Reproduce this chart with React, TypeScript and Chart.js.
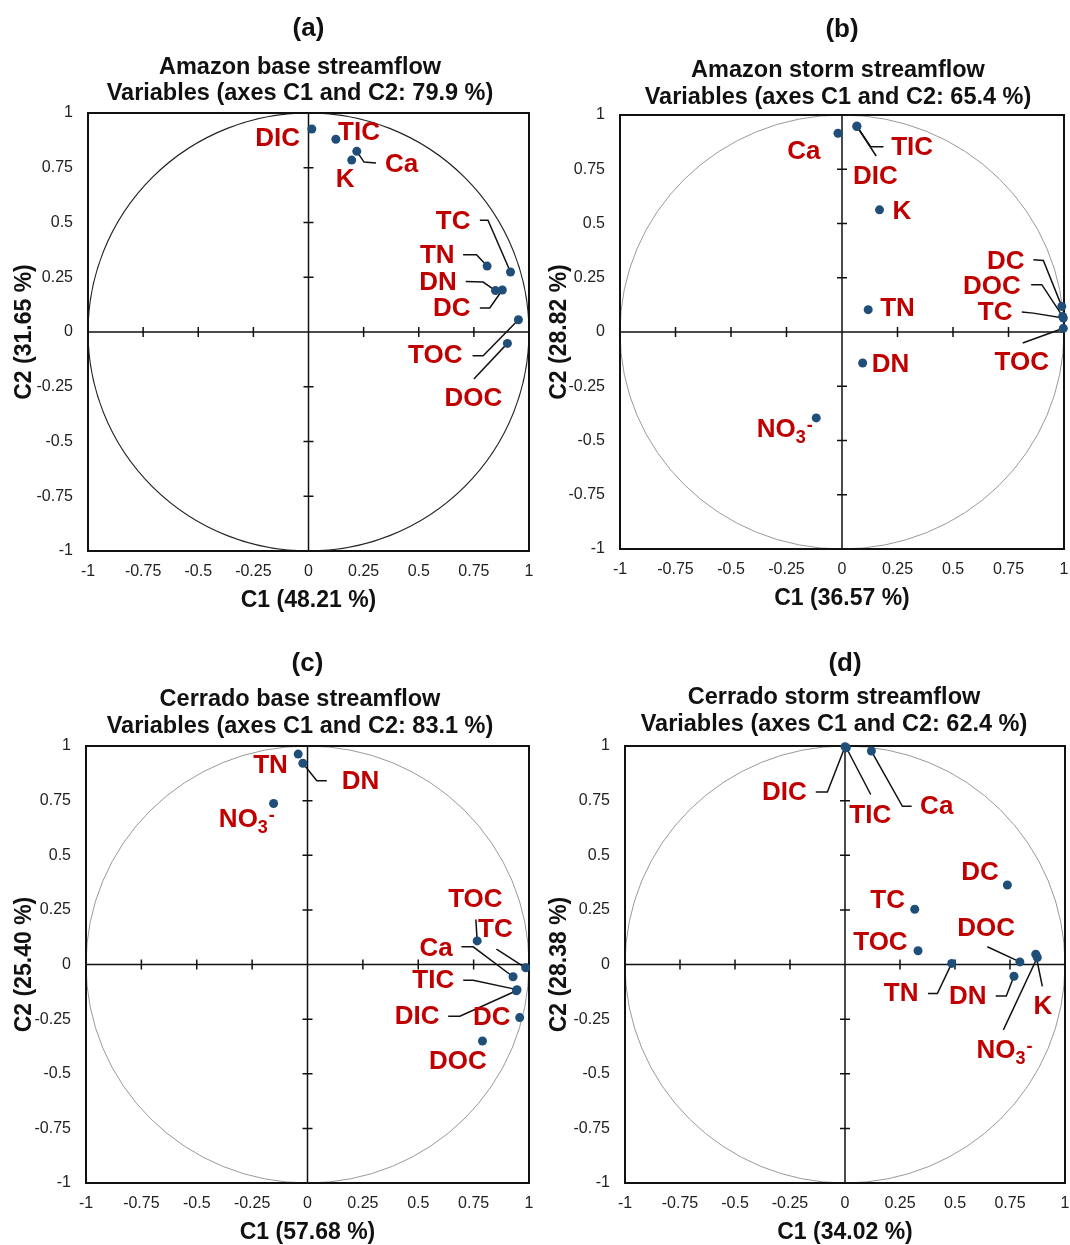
import React, { useEffect, useRef } from 'react';
import { Chart, registerables } from 'chart.js';

Chart.register(...registerables);

// ---------- data ----------
const axisTicks = [-1, -0.75, -0.5, -0.25, 0, 0.25, 0.5, 0.75, 1];

// (a) Amazon base streamflow
const aVars = ['DIC', 'TIC', 'Ca', 'K', 'TN', 'TC', 'DN', 'DC', 'TOC', 'DOC'];
const aC1 = [0.015, 0.124, 0.219, 0.196, 0.81, 0.916, 0.848, 0.879, 0.952, 0.902];
const aC2 = [0.927, 0.88, 0.825, 0.785, 0.301, 0.274, 0.189, 0.192, 0.056, -0.052];

// (b) Amazon storm streamflow
const bVars = ['Ca', 'TIC', 'DIC', 'K', 'TN', 'DN', 'DC', 'DOC', 'TC', 'TOC', 'NO3-'];
const bC1 = [-0.018, 0.067, 0.067, 0.169, 0.118, 0.093, 0.99, 0.994, 0.997, 0.997, -0.116];
const bC2 = [0.916, 0.949, 0.947, 0.563, 0.103, -0.143, 0.118, 0.072, 0.064, 0.017, -0.396];

// (c) Cerrado base streamflow
const cVars = ['TN', 'DN', 'NO3-', 'TOC', 'TC', 'Ca', 'TIC', 'DIC', 'DC', 'DOC'];
const cC1 = [-0.042, -0.021, -0.153, 0.766, 0.985, 0.928, 0.946, 0.943, 0.958, 0.79];
const cC2 = [0.963, 0.921, 0.737, 0.108, -0.015, -0.056, -0.115, -0.12, -0.243, -0.35];

// (d) Cerrado storm streamflow
const dVars = ['DIC', 'TIC', 'Ca', 'DC', 'TC', 'TOC', 'TN', 'DOC', 'DN', 'K', 'NO3-'];
const dC1 = [0.0, 0.006, 0.12, 0.738, 0.317, 0.332, 0.485, 0.795, 0.768, 0.867, 0.874];
const dC2 = [0.997, 0.992, 0.977, 0.364, 0.253, 0.063, 0.005, 0.012, -0.054, 0.047, 0.032];

// ---------- label annotations (data units) ----------
type LabelSpec = { at: [number, number]; via?: [number, number][] };

const aLabels: Record<string, LabelSpec> = {
  DIC: { at: [-0.14, 0.881] },
  TIC: { at: [0.229, 0.909] },
  Ca: { at: [0.422, 0.764], via: [[0.306, 0.772], [0.252, 0.776]] },
  K: { at: [0.166, 0.696] },
  TC: { at: [0.656, 0.505], via: [[0.777, 0.51], [0.814, 0.51]] },
  TN: { at: [0.584, 0.349], via: [[0.701, 0.353], [0.762, 0.353]] },
  DN: { at: [0.587, 0.224], via: [[0.713, 0.231], [0.792, 0.228]] },
  DC: { at: [0.65, 0.107], via: [[0.777, 0.11], [0.822, 0.11]] },
  TOC: { at: [0.575, -0.108], via: [[0.744, -0.108], [0.792, -0.108]] },
  DOC: { at: [0.748, -0.304], via: [[0.75, -0.215]] },
};

const bLabels: Record<string, LabelSpec> = {
  Ca: { at: [-0.172, 0.831] },
  TIC: { at: [0.316, 0.85], via: [[0.187, 0.854], [0.129, 0.854]] },
  DIC: { at: [0.15, 0.716], via: [[0.154, 0.811]] },
  K: { at: [0.27, 0.555] },
  TN: { at: [0.25, 0.106] },
  DN: { at: [0.219, -0.15] },
  DC: { at: [0.738, 0.325], via: [[0.862, 0.333], [0.907, 0.33]] },
  DOC: { at: [0.675, 0.21], via: [[0.852, 0.218], [0.9, 0.218]] },
  TC: { at: [0.69, 0.087], via: [[0.81, 0.092], [0.862, 0.087]] },
  TOC: { at: [0.81, -0.143], via: [[0.814, -0.051]] },
  'NO3-': { at: [-0.26, -0.45] },
};

const cLabels: Record<string, LabelSpec> = {
  TN: { at: [-0.167, 0.908] },
  DN: { at: [0.239, 0.837], via: [[0.087, 0.841], [0.042, 0.841]] },
  'NO3-': { at: [-0.276, 0.661] },
  TOC: { at: [0.758, 0.295], via: [[0.76, 0.206]] },
  TC: { at: [0.848, 0.157], via: [[0.853, 0.07]] },
  Ca: { at: [0.581, 0.07], via: [[0.695, 0.081], [0.748, 0.081]] },
  TIC: { at: [0.568, -0.075], via: [[0.703, -0.072], [0.748, -0.072]] },
  DIC: { at: [0.495, -0.24], via: [[0.635, -0.237], [0.688, -0.237]] },
  DC: { at: [0.832, -0.243] },
  DOC: { at: [0.679, -0.446] },
};

const dLabels: Record<string, LabelSpec> = {
  DIC: { at: [-0.276, 0.786], via: [[-0.133, 0.789], [-0.08, 0.789]] },
  TIC: { at: [0.115, 0.681], via: [[0.117, 0.778]] },
  Ca: { at: [0.417, 0.721], via: [[0.303, 0.724], [0.261, 0.724]] },
  DC: { at: [0.614, 0.418] },
  TC: { at: [0.194, 0.291] },
  TOC: { at: [0.161, 0.1] },
  DOC: { at: [0.641, 0.162], via: [[0.647, 0.081]] },
  TN: { at: [0.255, -0.133], via: [[0.377, -0.133], [0.42, -0.133]] },
  DN: { at: [0.558, -0.149], via: [[0.685, -0.144], [0.733, -0.144]] },
  K: { at: [0.9, -0.194], via: [[0.897, -0.1]] },
  'NO3-': { at: [0.723, -0.394], via: [[0.72, -0.299]] },
};

// ---------- panel layout / styles ----------
const FONT = '"Liberation Sans", Arial, Helvetica, sans-serif';

type PanelCfg = {
  key: string;
  letter: string;
  title1: string;
  title2: string;
  xTitle: string;
  yTitle: string;
  vars: string[];
  c1: number[];
  c2: number[];
  labels: Record<string, LabelSpec>;
  left: number;
  top: number;
  w: number;
  h: number;
  box: { L: number; R: number; T: number; B: number };
  titleY: [number, number, number];
  titleX: number;
  circleColor: string;
  circleWidth: number;
};

const panels: PanelCfg[] = [
  {
    key: 'a', letter: '(a)', title1: 'Amazon base streamflow', title2: 'Variables (axes C1 and C2: 79.9 %)',
    xTitle: 'C1 (48.21 %)', yTitle: 'C2 (31.65 %)', vars: aVars, c1: aC1, c2: aC2, labels: aLabels,
    left: 0, top: 0, w: 535, h: 622, box: { L: 88, R: 529, T: 113, B: 551 },
    titleY: [-84, -45, -19], titleX: 300, circleColor: '#222', circleWidth: 1.2,
  },
  {
    key: 'b', letter: '(b)', title1: 'Amazon storm streamflow', title2: 'Variables (axes C1 and C2: 65.4 %)',
    xTitle: 'C1 (36.57 %)', yTitle: 'C2 (28.82 %)', vars: bVars, c1: bC1, c2: bC2, labels: bLabels,
    left: 535, top: 0, w: 535, h: 622, box: { L: 85, R: 529, T: 115, B: 549 },
    titleY: [-85, -44, -17], titleX: 303, circleColor: '#999', circleWidth: 1,
  },
  {
    key: 'c', letter: '(c)', title1: 'Cerrado base streamflow', title2: 'Variables (axes C1 and C2: 83.1 %)',
    xTitle: 'C1 (57.68 %)', yTitle: 'C2 (25.40 %)', vars: cVars, c1: cC1, c2: cC2, labels: cLabels,
    left: 0, top: 622, w: 535, h: 623, box: { L: 86, R: 529, T: 124, B: 561 },
    titleY: [-82, -46, -19], titleX: 300, circleColor: '#999', circleWidth: 1,
  },
  {
    key: 'd', letter: '(d)', title1: 'Cerrado storm streamflow', title2: 'Variables (axes C1 and C2: 62.4 %)',
    xTitle: 'C1 (34.02 %)', yTitle: 'C2 (28.38 %)', vars: dVars, c1: dC1, c2: dC2, labels: dLabels,
    left: 535, top: 622, w: 535, h: 623, box: { L: 90, R: 530, T: 124, B: 561 },
    titleY: [-82, -48, -21], titleX: 299, circleColor: '#999', circleWidth: 1,
  },
];

const LABEL_SIZE = 26;
const LABEL_COLOR = '#C00000';

function drawVarLabel(ctx: CanvasRenderingContext2D, name: string, cx: number, cy: number) {
  const big = `bold ${LABEL_SIZE}px ${FONT}`;
  const small = `bold ${Math.round(LABEL_SIZE * 0.68)}px ${FONT}`;
  ctx.fillStyle = LABEL_COLOR;
  ctx.textBaseline = 'middle';
  if (name === 'NO3-') {
    ctx.font = big;
    const w1 = ctx.measureText('NO').width;
    ctx.font = small;
    const w2 = ctx.measureText('3').width;
    const w3 = ctx.measureText('-').width;
    let x = cx - (w1 + w2 + w3) / 2;
    ctx.textAlign = 'left';
    ctx.font = big;
    ctx.fillText('NO', x, cy);
    x += w1;
    ctx.font = small;
    ctx.fillText('3', x, cy + 8);
    x += w2;
    ctx.fillText('-', x + 1, cy - 4);
  } else {
    ctx.font = big;
    ctx.textAlign = 'center';
    ctx.fillText(name, cx, cy);
  }
}

const decorPlugin = {
  id: 'pcaDecor',
  beforeDatasetsDraw(chart: any) {
    const cfg: PanelCfg = chart.options.plugins.pcaDecor.cfg;
    const { ctx, chartArea: ca } = chart;
    const xs = chart.scales.x;
    const ys = chart.scales.y;
    const x0 = xs.getPixelForValue(0);
    const y0 = ys.getPixelForValue(0);

    // correlation circle
    ctx.save();
    ctx.beginPath();
    ctx.rect(ca.left, ca.top, ca.width, ca.height);
    ctx.clip();
    ctx.strokeStyle = cfg.circleColor;
    ctx.lineWidth = cfg.circleWidth;
    ctx.beginPath();
    ctx.ellipse(x0, y0, xs.getPixelForValue(1) - x0, y0 - ys.getPixelForValue(1), 0, 0, Math.PI * 2);
    ctx.stroke();
    ctx.restore();

    // central axes with ticks
    ctx.save();
    ctx.strokeStyle = '#111';
    ctx.lineWidth = 1.5;
    ctx.beginPath();
    ctx.moveTo(ca.left, y0);
    ctx.lineTo(ca.right, y0);
    ctx.moveTo(x0, ca.top);
    ctx.lineTo(x0, ca.bottom);
    for (const t of axisTicks) {
      if (t === 0 || Math.abs(t) === 1) continue;
      const px = xs.getPixelForValue(t);
      ctx.moveTo(px, y0 - 5);
      ctx.lineTo(px, y0 + 5);
      const py = ys.getPixelForValue(t);
      ctx.moveTo(x0 - 5, py);
      ctx.lineTo(x0 + 5, py);
    }
    ctx.stroke();
    ctx.restore();

    // outer frame
    ctx.save();
    ctx.strokeStyle = '#111';
    ctx.lineWidth = 2;
    ctx.strokeRect(ca.left, ca.top, ca.width, ca.height);
    ctx.restore();

    // leader lines
    ctx.save();
    ctx.strokeStyle = '#111';
    ctx.lineWidth = 1.5;
    cfg.vars.forEach((v, i) => {
      const spec = cfg.labels[v];
      if (!spec || !spec.via) return;
      ctx.beginPath();
      spec.via.forEach(([vx, vy], k) => {
        const px = xs.getPixelForValue(vx);
        const py = ys.getPixelForValue(vy);
        if (k === 0) ctx.moveTo(px, py);
        else ctx.lineTo(px, py);
      });
      ctx.lineTo(xs.getPixelForValue(cfg.c1[i]), ys.getPixelForValue(cfg.c2[i]));
      ctx.stroke();
    });
    ctx.restore();
  },
  afterDatasetsDraw(chart: any) {
    const cfg: PanelCfg = chart.options.plugins.pcaDecor.cfg;
    const { ctx, chartArea: ca } = chart;
    const xs = chart.scales.x;
    const ys = chart.scales.y;

    ctx.save();
    cfg.vars.forEach((v) => {
      const spec = cfg.labels[v];
      if (!spec) return;
      drawVarLabel(ctx, v, xs.getPixelForValue(spec.at[0]), ys.getPixelForValue(spec.at[1]));
    });
    ctx.restore();

    // titles
    ctx.save();
    ctx.fillStyle = '#111';
    ctx.textAlign = 'center';
    ctx.textBaseline = 'middle';
    const cx = (ca.left + ca.right) / 2;
    ctx.font = `bold 26px ${FONT}`;
    ctx.fillText(cfg.letter, cx, ca.top + cfg.titleY[0]);
    ctx.font = `bold 23.5px ${FONT}`;
    ctx.fillText(cfg.title1, cfg.titleX, ca.top + cfg.titleY[1]);
    ctx.fillText(cfg.title2, cfg.titleX, ca.top + cfg.titleY[2]);

    // axis titles
    ctx.font = `bold 23px ${FONT}`;
    ctx.fillText(cfg.xTitle, cx, ca.bottom + 50);
    ctx.translate(25, (ca.top + ca.bottom) / 2);
    ctx.rotate(-Math.PI / 2);
    ctx.fillText(cfg.yTitle, 0, 0);
    ctx.restore();
  },
};

function Panel({ cfg }: { cfg: PanelCfg }) {
  const ref = useRef<HTMLCanvasElement>(null);
  useEffect(() => {
    if (!ref.current) return;
    const { L, R, T, B } = cfg.box;
    const tickFont = { family: FONT, size: 16 };
    const chart = new Chart(ref.current, {
      type: 'scatter',
      data: {
        labels: cfg.vars,
        datasets: [
          {
            data: cfg.vars.map((_, i) => ({ x: cfg.c1[i], y: cfg.c2[i] })),
            backgroundColor: '#1F4E79',
            borderWidth: 0,
            pointRadius: 4.5,
            clip: false as any,
          },
        ],
      },
      options: {
        responsive: false,
        animation: false,
        events: [],
        layout: { padding: { left: 0, right: cfg.w - R, top: T, bottom: 0 } },
        plugins: {
          legend: { display: false },
          tooltip: { enabled: false },
          title: { display: false },
          pcaDecor: { cfg },
        } as any,
        scales: {
          x: {
            type: 'linear',
            min: -1,
            max: 1,
            afterBuildTicks: (s: any) => {
              s.ticks = axisTicks.map((v) => ({ value: v }));
            },
            afterFit: (s: any) => {
              s.height = cfg.h - B;
              s.paddingLeft = 0;
              s.paddingRight = 0;
            },
            grid: { display: false, drawTicks: false },
            border: { display: false },
            ticks: {
              padding: 11,
              color: '#222',
              font: tickFont,
              maxRotation: 0,
              autoSkip: false,
              callback: (v: any) => String(v),
            },
          },
          y: {
            type: 'linear',
            min: -1,
            max: 1,
            afterBuildTicks: (s: any) => {
              s.ticks = axisTicks.map((v) => ({ value: v }));
            },
            afterFit: (s: any) => {
              s.width = L;
              s.paddingTop = 0;
              s.paddingBottom = 0;
            },
            grid: { display: false, drawTicks: false },
            border: { display: false },
            ticks: {
              padding: 15,
              color: '#222',
              font: tickFont,
              autoSkip: false,
              callback: (v: any) => String(v),
            },
          },
        },
      },
      plugins: [decorPlugin],
    });
    return () => chart.destroy();
  }, [cfg]);
  return (
    <canvas
      ref={ref}
      width={cfg.w}
      height={cfg.h}
      style={{ position: 'absolute', left: cfg.left, top: cfg.top, width: cfg.w, height: cfg.h }}
    />
  );
}

export default function App() {
  return (
    <div style={{ position: 'absolute', left: 0, top: 0, width: 1070, height: 1245, background: '#fff' }}>
      {panels.map((p) => (
        <Panel key={p.key} cfg={p} />
      ))}
    </div>
  );
}
